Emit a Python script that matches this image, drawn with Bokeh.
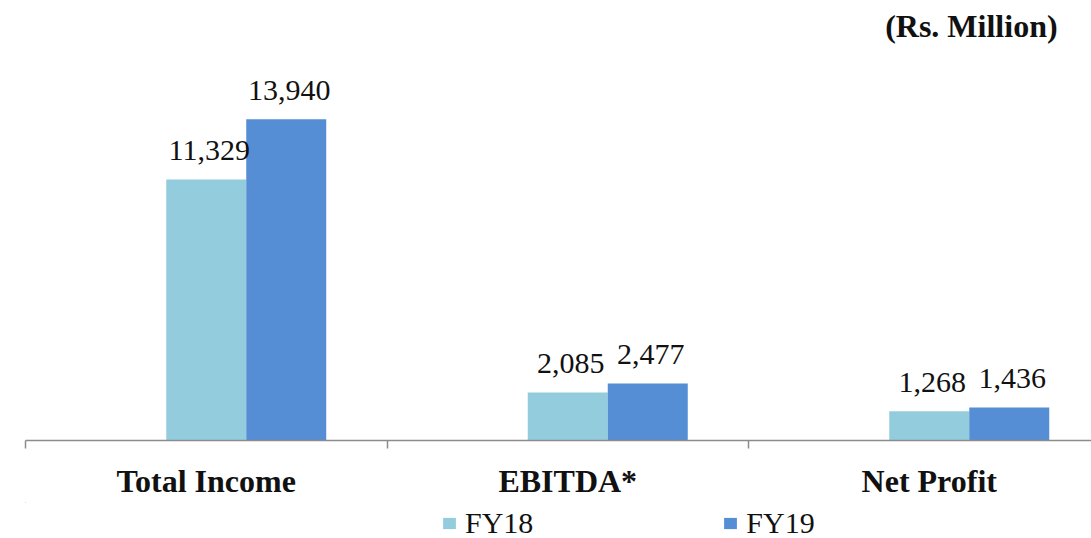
from bokeh.plotting import figure
from bokeh.layouts import column
from bokeh.models import (ColumnDataSource, Range1d, FixedTicker, LabelSet, Label,
                          Legend, LegendItem)
from bokeh.transform import dodge
from bokeh.embed import file_html
from bokeh.resources import INLINE

categories = ["Total Income", "EBITDA*", "Net Profit"]
fy18 = [11329, 2085, 1268]
fy19 = [13940, 2477, 1436]
series_names = ["FY18", "FY19"]
unit_label = "(Rs. Million)"

c18 = "#93CDDD"
c19 = "#558ED5"

xc = [i + 0.5 for i in range(len(categories))]
src = ColumnDataSource(dict(
    xc=xc, fy18=fy18, fy19=fy19,
    l18=[f"{v:,}" for v in fy18],
    l19=[f"{v:,}" for v in fy19],
))

p = figure(width=1091, height=502, output_backend="svg", toolbar_location=None,
           x_range=Range1d(0, 2.9488), y_range=Range1d(0, 19096),
           min_border_left=25, min_border_right=0, min_border_top=0,
           min_border_bottom=62)
p.outline_line_color = None
p.xgrid.visible = False
p.ygrid.visible = False
p.yaxis.visible = False
p.background_fill_color = "white"
p.border_fill_color = "white"

bw = 0.2213
r18 = p.vbar(x=dodge("xc", 0, range=p.x_range), top="fy18", width=bw, source=src,
             fill_color=c18, line_color=None)
r19 = p.vbar(x=dodge("xc", bw, range=p.x_range), top="fy19", width=bw, source=src,
             fill_color=c19, line_color=None)

for col, off in (("l18", 0), ("l19", bw)):
    top = "fy18" if col == "l18" else "fy19"
    ls = LabelSet(x=dodge("xc", off, range=p.x_range), y=top, text=col, source=src,
                  text_align="center", text_baseline="alphabetic",
                  x_offset=3, y_offset=19,
                  text_font="Liberation Serif", text_font_size="30px",
                  text_color="#111111")
    p.add_layout(ls)

ax = p.xaxis[0]
ax.ticker = FixedTicker(ticks=xc, minor_ticks=[0, 1, 2, 3])
ax.major_label_overrides = {x: c for x, c in zip(xc, categories)}
ax.major_tick_line_color = None
ax.major_tick_out = 8
ax.major_tick_in = 0
ax.minor_tick_out = 8
ax.minor_tick_in = 0
ax.minor_tick_line_color = "#8c8c8c"
ax.minor_tick_line_width = 1.5
ax.axis_line_color = "#8c8c8c"
ax.axis_line_width = 1.5
ax.major_label_standoff = 14
ax.major_label_text_font = "Liberation Serif"
ax.major_label_text_font_style = "bold"
ax.major_label_text_font_size = "32px"
ax.major_label_text_color = "#111111"

p.add_layout(Label(x=2.855, y=18011, text=unit_label, text_align="right",
                   text_baseline="alphabetic", text_font="Liberation Serif",
                   text_font_style="bold", text_font_size="32px",
                   text_color="#111111"))

# legend strip below the chart (its bars lie fully outside the visible ranges)
p2 = figure(width=1091, height=36, output_backend="svg", toolbar_location=None,
            x_range=Range1d(100, 101), y_range=Range1d(-200000, -100000),
            x_axis_type=None, y_axis_type=None,
            min_border_left=0, min_border_right=0, min_border_top=0,
            min_border_bottom=0)
p2.outline_line_color = None
p2.xgrid.visible = False
p2.ygrid.visible = False
g18 = p2.vbar(x="xc", top="fy18", width=0.1, source=src, fill_color=c18, line_color=None)
g19 = p2.vbar(x="xc", top="fy19", width=0.1, source=src, fill_color=c19, line_color=None)

legend = Legend(items=[LegendItem(label=series_names[0], renderers=[g18]),
                       LegendItem(label=series_names[1], renderers=[g19])],
                orientation="horizontal", location=(416, -2),
                padding=0, margin=0, spacing=189,
                glyph_width=16, glyph_height=14, label_standoff=8,
                label_text_font="Liberation Serif", label_text_font_size="30px",
                label_text_color="#111111",
                border_line_color=None, background_fill_alpha=0)
p2.add_layout(legend, "center")

open("out.html", "w").write(file_html(column(p, p2, spacing=0), INLINE))
